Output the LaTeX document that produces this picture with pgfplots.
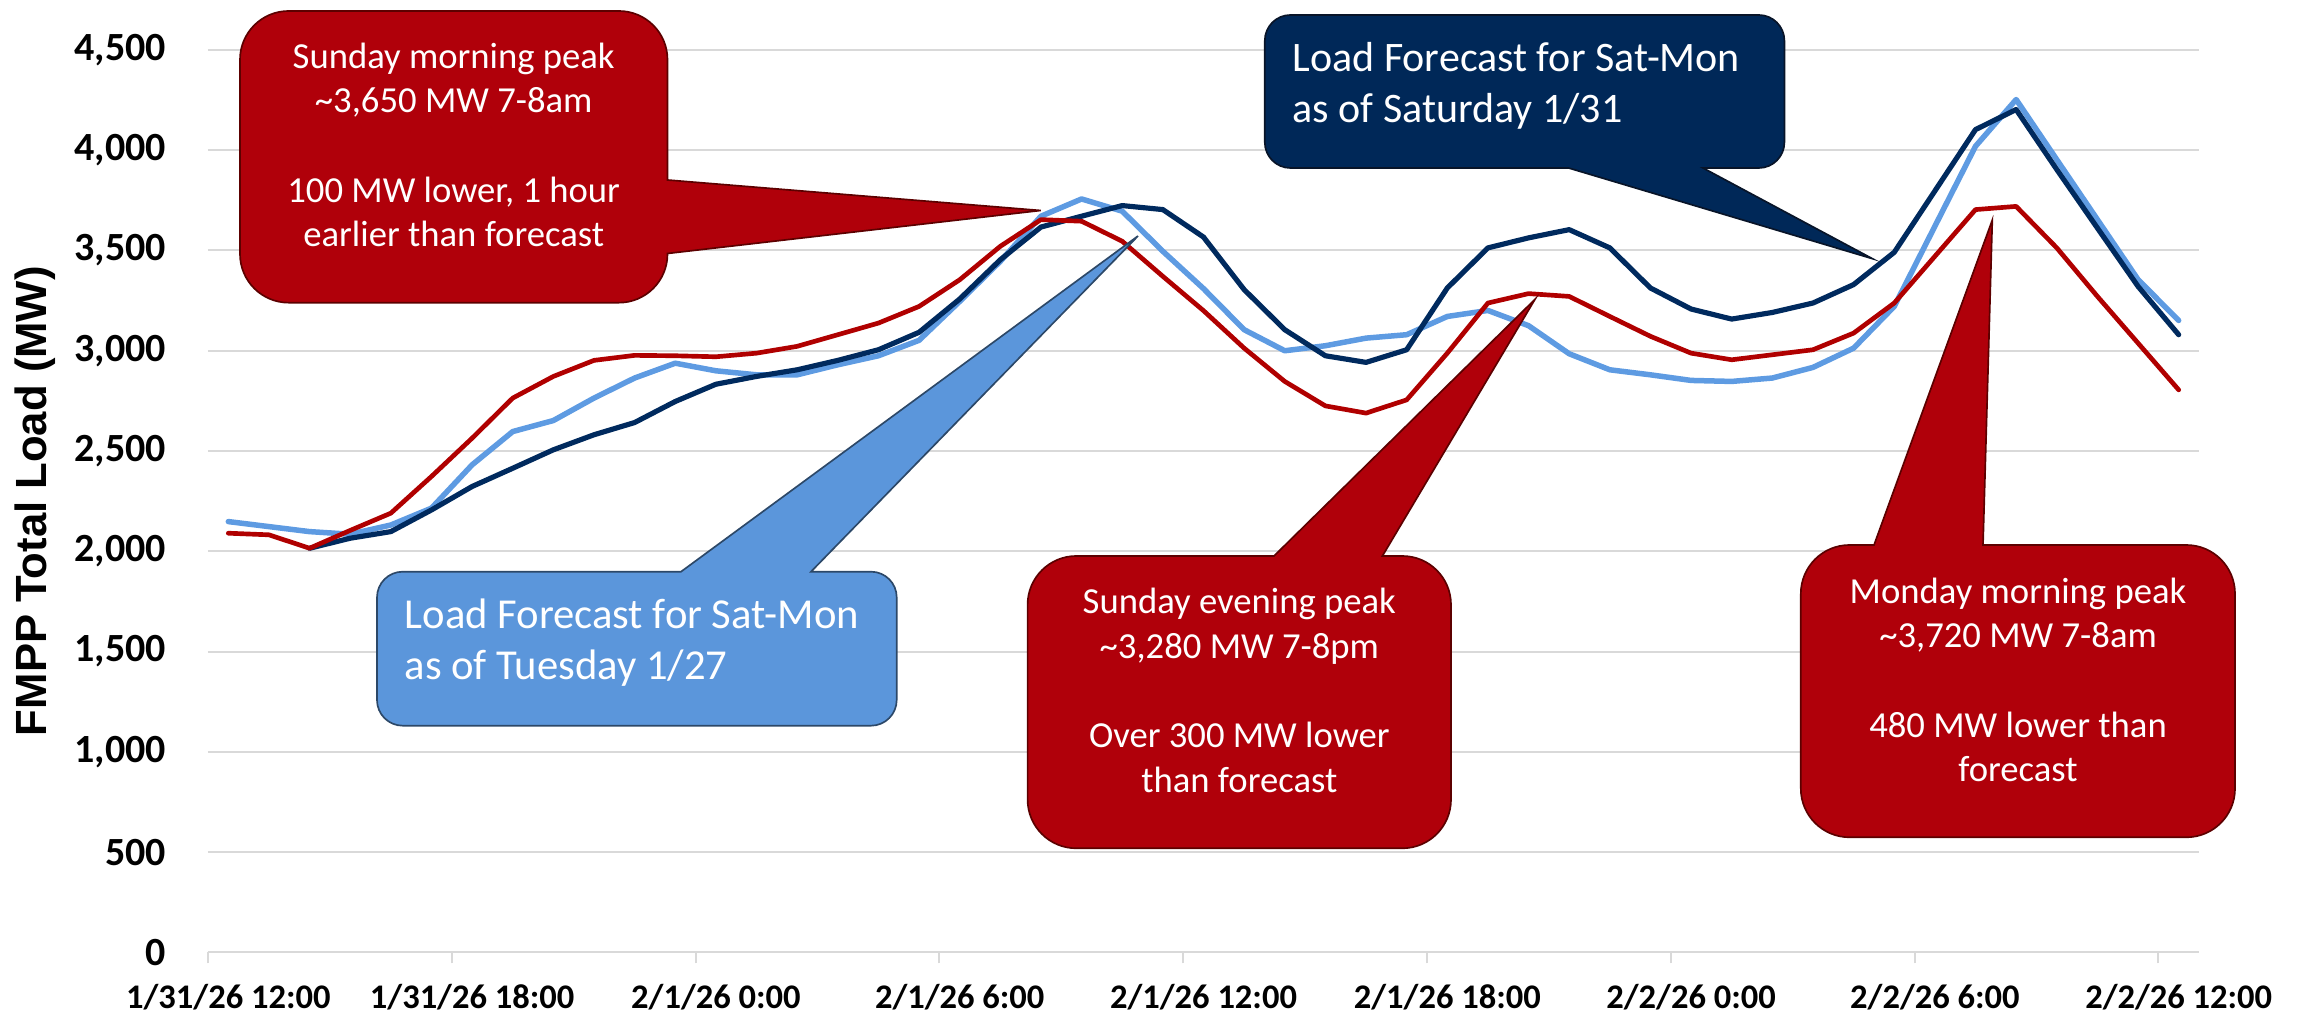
\documentclass[border=0pt]{standalone}
\usepackage{fontspec}
\setmainfont{Carlito}
\newfontfamily\arialfont{Liberation Sans}
\usepackage{pgfplots}
\pgfplotsset{compat=1.18}
\usepackage{pgfplotstable}

\definecolor{actred}{RGB}{176,0,0}
\definecolor{calred}{RGB}{176,0,10}
\definecolor{calredline}{RGB}{92,0,0}
\definecolor{navyline}{RGB}{0,42,94}
\definecolor{calnavy}{RGB}{0,40,88}
\definecolor{calnavyline}{RGB}{8,20,40}
\definecolor{ltblue}{RGB}{94,155,226}
\definecolor{calblue}{RGB}{91,150,219}
\definecolor{calblueline}{RGB}{44,72,104}
\definecolor{gridgray}{RGB}{217,217,217}

\pgfplotstableread{
i act tue sat
0 2090 2148 nan
1 2082 2123 nan
2 2015 2098 2015
3 2104 2085 2065
4 2190 2131 2098
5 2373 2215 2206
6 2564 2431 2323
7 2764 2597 2414
8 2872 2652 2506
9 2952 2764 2581
10 2977 2864 2642
11 2975 2938 2747
12 2970 2900 2833
13 2988 2880 2872
14 3022 2880 2905
15 3080 2930 2952
16 3138 2975 3005
17 3221 3052 3092
18 3354 3246 3258
19 3521 3446 3454
20 3654 3671 3617
21 3646 3757 3671
22 3546 3696 3724
23 3371 3496 3704
24 3200 3310 3567
25 3013 3105 3305
26 2847 3000 3105
27 2725 3025 2975
28 2689 3063 2942
29 2755 3080 3005
30 2988 3171 3313
31 3238 3201 3513
32 3285 3125 3563
33 3271 2985 3604
34 3171 2905 3513
35 3072 2880 3313
36 2988 2852 3208
37 2955 2847 3158
38 2980 2864 3191
39 3005 2917 3238
40 3088 3013 3330
41 3238 3221 3491
42 3471 3621 3797
43 3704 4020 4103
44 3720 4253 4203
45 3513 3953 3904
46 3271 3654 3612
47 3038 3355 3321
48 2805 3151 3080
}\loaddata

\begin{document}
\begin{tikzpicture}
\begin{axis}[
  scale only axis, width=597.3pt, height=270.69pt,
  xmin=-0.5, xmax=48.5, ymin=0, ymax=4500,
  axis x line*=bottom, axis y line*=left,
  y axis line style={draw=none},
  x axis line style={draw=gridgray, line width=0.6pt},
  ytick={0,500,...,4500},
  yticklabels={0,500,{1,000},{1,500},{2,000},{2,500},{3,000},{3,500},{4,000},{4,500}},
  xtick={0,6,...,48},
  xticklabels={1/31/26 12:00,1/31/26 18:00,2/1/26 0:00,2/1/26 6:00,2/1/26 12:00,2/1/26 18:00,2/2/26 0:00,2/2/26 6:00,2/2/26 12:00},
  ytick style={draw=none}, xtick style={draw=none},
  ymajorgrids, major grid style={draw=gridgray, line width=0.6pt},
  yticklabel style={font=\bfseries\fontsize{12}{12}\selectfont, anchor=east, inner sep=0pt, xshift=-12.4pt},
  xticklabel style={font=\bfseries\fontsize{10.35}{10.35}\selectfont, anchor=north, inner sep=0pt, yshift=-9.5pt},
  extra x ticks={-0.5,5.5,11.5,17.5,23.5,29.5,35.5,41.5,47.5},
  extra x tick labels={},
  extra x tick style={major tick length=3.3pt, tick align=outside, xticklabel={}, xtick style={draw=gridgray, line width=0.6pt}},
  ylabel={FMPP Total Load (MW)},
  ylabel style={font=\arialfont\bfseries\fontsize{13.1}{13.1}\selectfont, at={(axis description cs:-0.0869,0.5)}, anchor=center},
  clip=false,
]
\addplot[ltblue, line width=1.65pt, line join=round, line cap=round] table[x=i,y=tue]{\loaddata};
\addplot[navyline, line width=1.55pt, line join=round, line cap=round] table[x=i,y=sat]{\loaddata};
\addplot[actred, line width=1.4pt, line join=round, line cap=round] table[x=i,y=act]{\loaddata};
\end{axis}

\begin{scope}[shift={(-62.4pt,285.69pt)}, x=0.3pt, y=-0.3pt]
% Callout 1 - Sunday morning peak
\filldraw[fill=calred, draw=calredline, line width=0.5pt, line join=miter]
 (288.7,11) -- (618.8,11) .. controls (645.7,11) and (667.5,32.8) .. (667.5,59.7)
 -- (667.5,180) -- (1040.7,210.5) -- (667.5,253.5) -- (667.5,254)
 .. controls (667.5,280.9) and (645.7,302.7) .. (618.8,302.7) -- (288.7,302.7)
 .. controls (261.8,302.7) and (240,280.9) .. (240,254) -- (240,59.7)
 .. controls (240,32.8) and (261.8,11) .. (288.7,11) -- cycle;
\begin{scope}[every node/.style={anchor=base, text=white, font=\fontsize{11}{13}\selectfont, inner sep=0pt}]
\node at (453.7,68.3) {Sunday morning peak};
\node at (453.7,112.7) {\textasciitilde3,650 MW 7-8am};
\node at (453.7,202.3) {100 MW lower, 1 hour};
\node at (453.7,246.7) {earlier than forecast};
\end{scope}

% Callout 2 - navy
\filldraw[fill=calnavy, draw=calnavyline, line width=0.5pt, line join=miter]
 (1290.4,15) -- (1758.8,15) .. controls (1772.9,15) and (1784.4,26.5) .. (1784.4,40.6)
 -- (1784.4,142.4) .. controls (1784.4,156.5) and (1772.9,168) .. (1758.8,168)
 -- (1703,168) -- (1872.4,258.7) -- (1568.5,168) -- (1290.4,168)
 .. controls (1276.3,168) and (1264.8,156.5) .. (1264.8,142.4) -- (1264.8,40.6)
 .. controls (1264.8,26.5) and (1276.3,15) .. (1290.4,15) -- cycle;
\begin{scope}[every node/.style={anchor=base west, text=white, font=\fontsize{12.6}{15}\selectfont, inner sep=0pt}]
\node at (1292,72) {Load Forecast for Sat-Mon};
\node at (1292,122.5) {as of Saturday 1/31};
\end{scope}

% Callout 3 - light blue
\filldraw[fill=calblue, draw=calblueline, line width=0.5pt, line join=miter]
 (402.7,571.7) -- (681,571.7) -- (1138,236) -- (811,571.7) -- (871,571.7)
 .. controls (885.2,571.7) and (896.7,583.2) .. (896.7,597.4) -- (896.7,700)
 .. controls (896.7,714.2) and (885.2,725.7) .. (871,725.7) -- (402.7,725.7)
 .. controls (388.5,725.7) and (377,714.2) .. (377,700) -- (377,597.4)
 .. controls (377,583.2) and (388.5,571.7) .. (402.7,571.7) -- cycle;
\begin{scope}[every node/.style={anchor=base west, text=white, font=\fontsize{12.8}{15}\selectfont, inner sep=0pt}]
\node at (404,628.3) {Load Forecast for Sat-Mon};
\node at (404,680) {as of Tuesday 1/27};
\end{scope}

% Callout 4 - Sunday evening peak
\filldraw[fill=calred, draw=calredline, line width=0.5pt, line join=miter]
 (1076.3,556) -- (1274,556) -- (1535,299.3) -- (1382.4,556) -- (1402.3,556)
 .. controls (1429.2,556) and (1451,577.8) .. (1451,604.7) -- (1451,799.6)
 .. controls (1451,826.5) and (1429.2,848.3) .. (1402.3,848.3) -- (1076.3,848.3)
 .. controls (1049.4,848.3) and (1027.6,826.5) .. (1027.6,799.6) -- (1027.6,604.7)
 .. controls (1027.6,577.8) and (1049.4,556) .. (1076.3,556) -- cycle;
\begin{scope}[every node/.style={anchor=base, text=white, font=\fontsize{11}{13}\selectfont, inner sep=0pt}]
\node at (1239.3,614) {Sunday evening peak};
\node at (1239.3,658.5) {\textasciitilde3,280 MW 7-8pm};
\node at (1239.3,748) {Over 300 MW lower};
\node at (1239.3,793) {than forecast};
\end{scope}

% Callout 5 - Monday morning peak
\filldraw[fill=calred, draw=calredline, line width=0.5pt, line join=miter]
 (1849.5,545) -- (1874,545) -- (1992.3,220) -- (1983,545) -- (2186.3,545)
 .. controls (2213.2,545) and (2235,566.8) .. (2235,593.7) -- (2235,788.6)
 .. controls (2235,815.5) and (2213.2,837.3) .. (2186.3,837.3) -- (1849.5,837.3)
 .. controls (1822.6,837.3) and (1800.8,815.5) .. (1800.8,788.6) -- (1800.8,593.7)
 .. controls (1800.8,566.8) and (1822.6,545) .. (1849.5,545) -- cycle;
\begin{scope}[every node/.style={anchor=base, text=white, font=\fontsize{11}{13}\selectfont, inner sep=0pt}]
\node at (2018,603.3) {Monday morning peak};
\node at (2018,647.7) {\textasciitilde3,720 MW 7-8am};
\node at (2018,737.3) {480 MW lower than};
\node at (2018,781.7) {forecast};
\end{scope}
\end{scope}

\pgfresetboundingbox
\path[use as bounding box] (-62.4pt,285.69pt) rectangle (626.7pt,-18.81pt);
\end{tikzpicture}
\end{document}
